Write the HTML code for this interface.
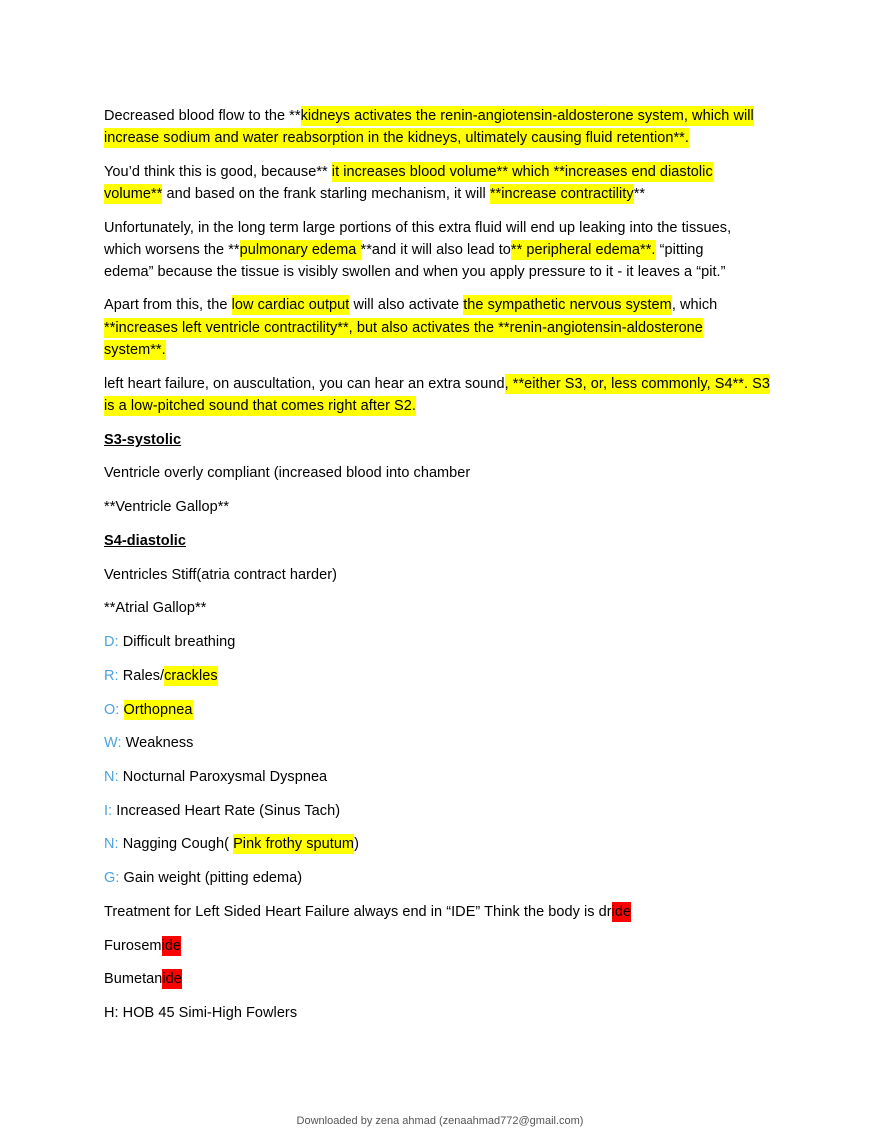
<!DOCTYPE html>
<html><head><meta charset="utf-8"><style>
body{margin:0;background:#fff;}
.p{position:relative;width:880px;height:1139px;overflow:hidden;}
.l{position:absolute;left:104px;white-space:nowrap;font-family:"Liberation Sans",sans-serif;font-size:14.5px;letter-spacing:0.05px;line-height:20px;color:#000;}
.y{background:#ffff00;padding:2px 0;}
.r{background:#ff0000;padding:2px 0;}
.b{color:#4aa3df;}
u{font-weight:bold;}
.f{position:absolute;left:0;width:880px;text-align:center;top:1115px;font-family:"Liberation Sans",sans-serif;font-size:11px;color:#555;}
</style></head><body><div class="p">
<div class="l" style="top:106px">Decreased blood flow to the **<span class="y">kidneys activates the renin-angiotensin-aldosterone system, which will</span></div>
<div class="l" style="top:128px"><span class="y">increase sodium and water reabsorption in the kidneys, ultimately causing fluid retention**.</span></div>
<div class="l" style="top:162px">You’d think this is good, because** <span class="y">it increases blood volume** which **increases end diastolic</span></div>
<div class="l" style="top:184px"><span class="y">volume**</span> and based on the frank starling mechanism, it will <span class="y">**increase contractility</span>**</div>
<div class="l" style="top:218px">Unfortunately, in the long term large portions of this extra fluid will end up leaking into the tissues,</div>
<div class="l" style="top:240px">which worsens the **<span class="y">pulmonary edema </span>**and it will also lead to<span class="y">** peripheral edema**.</span> “pitting</div>
<div class="l" style="top:262px">edema” because the tissue is visibly swollen and when you apply pressure to it - it leaves a “pit.”</div>
<div class="l" style="top:295px">Apart from this, the <span class="y">low cardiac output</span> will also activate <span class="y">the sympathetic nervous system</span>, which</div>
<div class="l" style="top:318px"><span class="y">**increases left ventricle contractility**, but also activates the **renin-angiotensin-aldosterone</span></div>
<div class="l" style="top:340px"><span class="y">system**.</span></div>
<div class="l" style="top:374px">left heart failure, on auscultation, you can hear an extra sound<span class="y">, **either S3, or, less commonly, S4**. S3</span></div>
<div class="l" style="top:396px"><span class="y">is a low-pitched sound that comes right after S2.</span></div>
<div class="l" style="top:430px"><u>S3-systolic </u></div>
<div class="l" style="top:463px">Ventricle overly compliant (increased blood into chamber</div>
<div class="l" style="top:497px">**Ventricle Gallop**</div>
<div class="l" style="top:531px"><u>S4-diastolic </u></div>
<div class="l" style="top:565px">Ventricles Stiff(atria contract harder)</div>
<div class="l" style="top:598px">**Atrial Gallop**</div>
<div class="l" style="top:632px"><span class="b">D:</span> Difficult breathing</div>
<div class="l" style="top:666px"><span class="b">R:</span> Rales/<span class="y">crackles</span></div>
<div class="l" style="top:700px"><span class="b">O:</span> <span class="y">Orthopnea</span></div>
<div class="l" style="top:733px"><span class="b">W:</span> Weakness</div>
<div class="l" style="top:767px"><span class="b">N:</span> Nocturnal Paroxysmal Dyspnea</div>
<div class="l" style="top:801px"><span class="b">I:</span> Increased Heart Rate (Sinus Tach)</div>
<div class="l" style="top:834px"><span class="b">N:</span> Nagging Cough( <span class="y">Pink frothy sputum</span>)</div>
<div class="l" style="top:868px"><span class="b">G:</span> Gain weight (pitting edema)</div>
<div class="l" style="top:902px">Treatment for Left Sided Heart Failure always end in “IDE” Think the body is dr<span class="r">ide</span></div>
<div class="l" style="top:936px">Furosem<span class="r">ide</span></div>
<div class="l" style="top:969px">Bumetan<span class="r">ide</span></div>
<div class="l" style="top:1003px">H: HOB 45 Simi-High Fowlers</div>
<div class="f">Downloaded by zena ahmad (zenaahmad772@gmail.com)</div>
</div></body></html>
